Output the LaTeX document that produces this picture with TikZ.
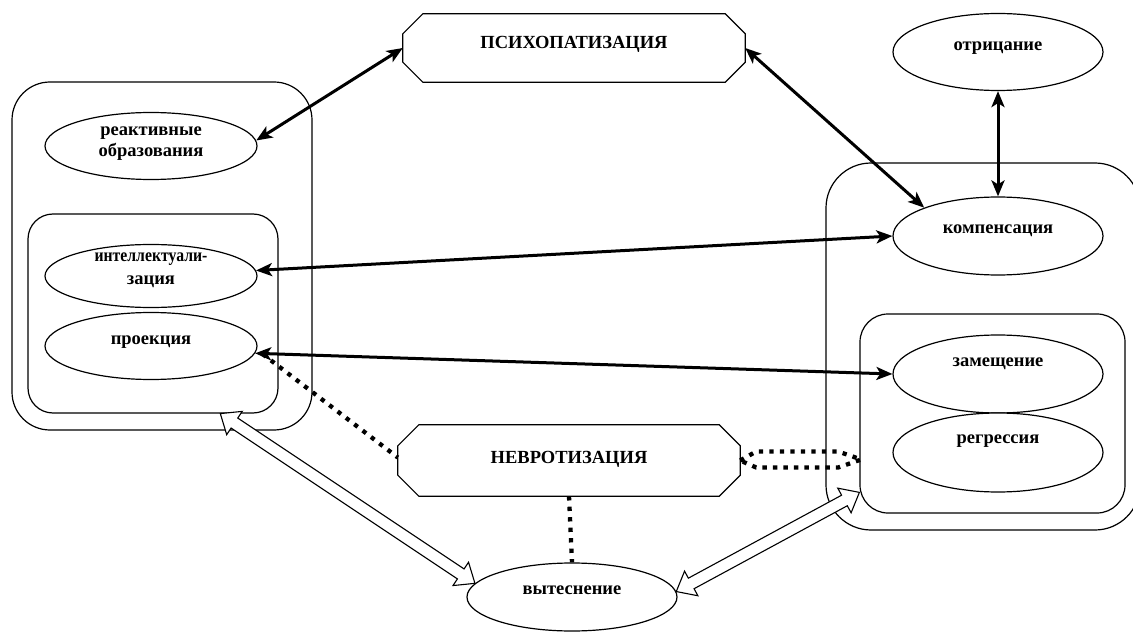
\documentclass[tikz,border=0pt]{standalone}
\usepackage{fontspec}
\setmainfont{Liberation Serif}
\usetikzlibrary{arrows.meta,shapes.geometric,calc}
\newcommand\octagonpath[2]{%
  \draw[box] ([xshift=#2]#1.north west) -- ([xshift=-#2]#1.north east) -- ([yshift=-#2]#1.north east) -- ([yshift=#2]#1.south east) -- ([xshift=-#2]#1.south east) -- ([xshift=#2]#1.south west) -- ([yshift=#2]#1.south west) -- ([yshift=-#2]#1.north west) -- cycle;}
\newcommand\hollowarrow[2]{%
  \draw[hollowbox] let \p1=(#1), \p2=(#2), \n1={atan2(\y2-\y1,\x2-\x1)}, \n2={veclen(\x2-\x1,\y2-\y1)} in
  [shift={(\p1)}, rotate=\n1] (0,0) -- (17,14) -- (17,6) -- ({\n2-17},6) -- ({\n2-17},14) -- (\n2,0) -- ({\n2-17},-14) -- ({\n2-17},-6) -- (17,-6) -- (17,-14) -- cycle;}
\begin{document}
\begin{tikzpicture}[x=1pt,y=-1pt,
  box/.style={draw, line width=1.2pt},
  hollowbox/.style={draw, fill=white, line width=1.1pt, line join=miter},
  ell/.style={ellipse, draw, line width=1.2pt, fill=white, inner sep=0pt, minimum width=210pt},
  lab/.style={font=\fontsize{18.5}{21}\selectfont\bfseries, align=center, inner sep=0pt},
  plain/.style={inner sep=0pt},
  thickarrow/.style={line width=3pt, {Stealth[length=16pt,width=13pt,inset=4pt]}-{Stealth[length=16pt,width=13pt,inset=4pt]}},
  dotline/.style={line width=4.3pt, dash pattern=on 4.3pt off 6.2pt}
]
\useasboundingbox (0,0) rectangle (1133,639);

% containers
\node[box, rounded corners=38pt, minimum width=300pt, minimum height=348pt, plain] (lout) at (162,256) {};
\node[box, rounded corners=25pt, minimum width=250pt, minimum height=199pt, plain] (lin) at (153,313.5) {};
\node[box, rounded corners=45pt, minimum width=314pt, minimum height=367pt, plain] (rout) at (983,346.5) {};
\node[box, rounded corners=28pt, minimum width=265pt, minimum height=199pt, plain] (rin) at (992.5,413.5) {};

% ellipses
\node[ell, minimum width=212pt, minimum height=67pt, label={[lab, yshift=2pt]center:реактивные\\образования}] (reakt) at (151,146) {};
\node[ell, minimum width=212pt, minimum height=63pt, label={[lab, font=\fontsize{18.5}{23}\selectfont\bfseries, yshift=6pt]center:\scalebox{0.85}[1]{интеллектуали-}\\зация}] (intel) at (151,276) {};
\node[ell, minimum width=212pt, minimum height=67pt, label={[lab, yshift=4pt]center:проекция}] (proj) at (151,346) {};
\node[ell, minimum height=77pt, label={[lab, yshift=4pt]center:отрицание}] (otr) at (998,52) {};
\node[ell, minimum height=78pt, label={[lab, yshift=5pt]center:компенсация}] (komp) at (998,236) {};
\node[ell, minimum height=78pt, label={[lab, yshift=10pt]center:замещение}] (zam) at (998,374) {};
\node[ell, minimum height=79pt, label={[lab, yshift=11pt]center:регрессия}] (regr) at (998,452.5) {};
\node[ell, minimum height=68pt, label={[lab, yshift=7pt]center:вытеснение}] (vyt) at (572,597) {};

% octagons
\node[plain, minimum width=342pt, minimum height=68pt, label={[lab, yshift=4pt]center:ПСИХОПАТИЗАЦИЯ}] (psych) at (574,48) {};
\octagonpath{psych}{20pt}
\node[plain, minimum width=342pt, minimum height=71pt, label={[lab, yshift=1pt]center:НЕВРОТИЗАЦИЯ}] (nevro) at (569,460.5) {};
\octagonpath{nevro}{21pt}

% dotted connectors
\draw[dotline] ([xshift=5pt,yshift=-8pt]proj.east) -- ([yshift=3pt]nevro.west);
\draw[dotline] (nevro.south) -- (vyt.north);
\draw[dotline] (nevro.east) -- ++(16,-9) -- ++(82,0) -- ++(23,8) -- ++(-23,8) -- ++(-82,0) -- cycle;

% thick double-headed arrows
\draw[thickarrow] (psych.west) -- (reakt.3);
\draw[thickarrow] (psych.east) -- (komp.159);
\draw[thickarrow] (otr.south) -- (komp.north);
\draw[thickarrow] (intel.3) -- (komp.west);
\draw[thickarrow] (proj.356) -- (zam.west);

% hollow block arrows
\coordinate (a1) at ($(lin.south west)!0.768!(lin.south east)$);
\coordinate (a2) at ($(rin.north west)!0.894!(rin.south west)$);
\hollowarrow{a1}{vyt.172}
\hollowarrow{vyt.3}{a2}
\end{tikzpicture}
\end{document}
